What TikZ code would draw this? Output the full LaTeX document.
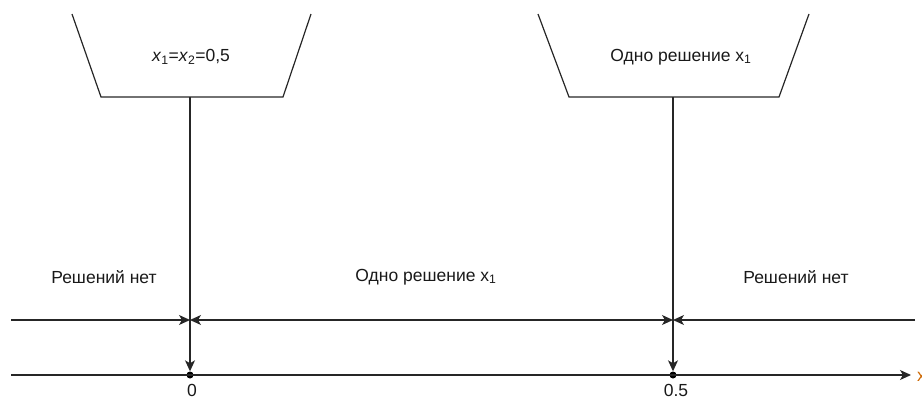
\documentclass[tikz,border=0pt]{standalone}
\usepackage{fontspec}
\setmainfont{Liberation Sans}
\usetikzlibrary{arrows.meta}
\begin{document}
\begin{tikzpicture}[x=1pt,y=-1pt,
  ln/.style={draw=black!85,line width=1.2pt},
  arr/.style={ln,-{Stealth[length=11pt,width=10pt,inset=3pt]}},
  lbl/.style={font=\fontsize{17.5}{20}\selectfont,text=black!90,inner sep=0pt},
  dotn/.style={circle,fill=black,inner sep=0pt,minimum size=7pt}]
\useasboundingbox (0,0) rectangle (922,399);
% trapezoids (open top)
\draw[ln] (72,14) coordinate (a1) -- (101,97) coordinate (a2) -- (283,97) coordinate (a3) -- (311,14) coordinate (a4);
\draw[ln] (538,14) coordinate (b1) -- (569,97) coordinate (b2) -- (779,97) coordinate (b3) -- (809,14) coordinate (b4);
\node[lbl] (t1) at (191,57) {\textit{x}\textsubscript{1}=\textit{x}\textsubscript{2}=0,5};
\node[lbl] (t2) at (681,57) {Одно решение x\textsubscript{1}};
% points on axis
\node[dotn] (p0) at (190,375) {};
\node[dotn] (p5) at (673,375) {};
\coordinate (v0) at (190,97);
\coordinate (v5) at (673,97);
\draw[arr] (v0) -- (p0.north);
\draw[arr] (v5) -- (p5.north);
% upper line
\coordinate (uL) at (11,320);
\coordinate (u0) at (190,320);
\coordinate (u5) at (673,320);
\coordinate (uR) at (915,320);
\draw[arr] (uL) -- (u0);
\draw[ln,{Stealth[length=11pt,width=10pt,inset=3pt]}-{Stealth[length=11pt,width=10pt,inset=3pt]}] (u0) -- (u5);
\draw[arr] (uR) -- (u5);
% axis
\coordinate (aL) at (11,375);
\coordinate (aR) at (911,375);
\draw[arr] (aL) -- (aR);
\node[lbl] (n0) at (192,390) {0};
\node[lbl] (n5) at (676,390) {0.5};
\node[lbl] (r1) at (104,277) {Решений нет};
\node[lbl] (r2) at (426,277) {Одно решение x\textsubscript{1}};
\node[lbl] (r3) at (796,277) {Решений нет};
\begin{scope}
\clip (0,0) rectangle (922,399);
\node[lbl,text=orange!80!black,anchor=west] (xa) at (917,377) {x};
\end{scope}
\end{tikzpicture}
\end{document}
